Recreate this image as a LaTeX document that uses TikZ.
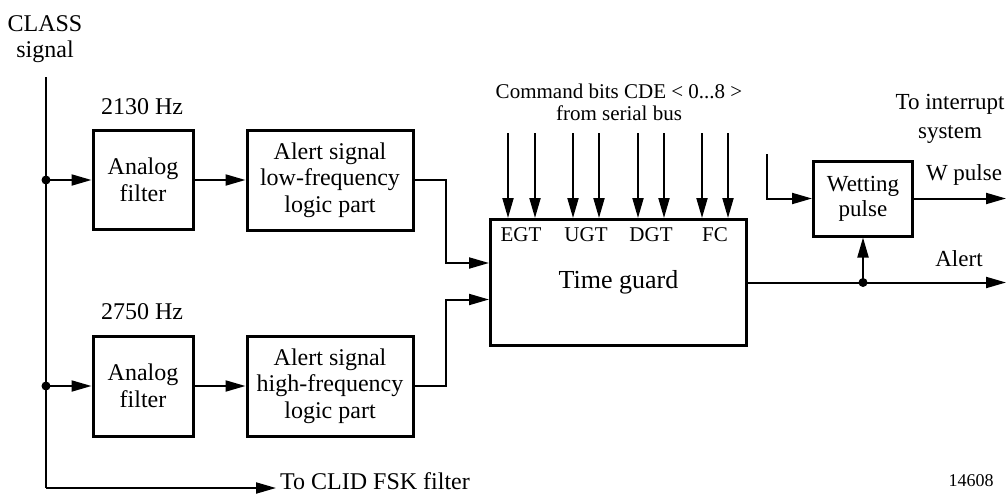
\documentclass[tikz,border=0pt]{standalone}
\usepackage{fontspec}
\setmainfont{Liberation Serif}
\usetikzlibrary{arrows.meta}

\begin{document}
\begin{tikzpicture}[x=1pt,y=-1pt,
    box/.style={draw,line width=3pt,align=center,inner sep=0pt,font=\fontsize{24}{26.5}\selectfont},
    wire/.style={line width=2pt},
    arr/.style={line width=2pt,-{Triangle[length=20pt,width=11pt]}},
    lbl/.style={font=\fontsize{24}{26}\selectfont,align=center},
    tag/.style={font=\fontsize{21}{21.5}\selectfont,align=center,inner sep=0pt},
    side/.style={font=\fontsize{23}{29}\selectfont,align=center,inner sep=0pt}]
    \useasboundingbox (0,0) rectangle (1008,495);

    % Filters and logic parts
    \node[box,minimum width=100pt,minimum height=99pt] (af1) at (143,180) {Analog\\filter};
    \node[box,minimum width=166pt,minimum height=100pt] (as1) at (330,180) {Alert signal\\low-frequency\\logic part};
    \node[box,minimum width=100pt,minimum height=100pt] (af2) at (143,386) {Analog\\filter};
    \node[box,minimum width=166pt,minimum height=100pt] (as2) at (330,386) {Alert signal\\high-frequency\\logic part};

    % Time guard and wetting pulse
    \node[box,minimum width=256pt,minimum height=126pt,font=\fontsize{26}{28}\selectfont] (tg) at (618.5,282.5) {Time guard};
    \node[box,minimum width=99pt,minimum height=75pt,font=\fontsize{23}{25}\selectfont] (wp) at (863,198.5) {Wetting\\pulse};

    % Labels
    \node[lbl,anchor=north,inner sep=0pt] (cls) at (45,15) {CLASS\\signal};
    \node[lbl] (f1) at (142,107) {2130 Hz};
    \node[lbl] (f2) at (142,312) {2750 Hz};
    \node[lbl,anchor=west,inner xsep=4pt,inner ysep=0pt] (clid) at (276,481) {To CLID FSK filter};
    \node[tag,anchor=north] (cmd) at (619,84) {Command bits CDE < 0...8 >\\from serial bus};
    \node[tag] (egt) at (521,234.5) {EGT};
    \node[tag] (ugt) at (586,234.5) {UGT};
    \node[tag] (dgt) at (651,234.5) {DGT};
    \node[tag] (fc) at (715,234.5) {FC};
    \node[side,anchor=north] (intr) at (950,94) {To interrupt\\system};
    \node[side] (wpl) at (964,175) {W pulse};
    \node[side] (alt) at (959,259) {Alert};
    \node[font=\fontsize{18}{20}\selectfont] (num) at (971,481) {14608};

    % Input trunk
    \coordinate (top) at (46,77);
    \coordinate (j1) at (46,180);
    \coordinate (j2) at (46,386);
    \coordinate (bot) at (46,488);
    \draw[wire] (top) -- (bot);
    \draw[arr] (bot) -- (bot -| clid.west);
    \fill (j1) circle (4.5pt);
    \fill (j2) circle (4.5pt);
    \draw[arr] (j1) -- (af1.west);
    \draw[arr] (j2) -- (af2.west);
    \draw[arr] (af1) -- (as1);
    \draw[arr] (af2) -- (as2);

    % Into the time guard
    \draw[arr] (as1.east) -- ++(31,0) |- ([yshift=19.5pt]tg.west);
    \draw[arr] (as2.east) -- ++(31,0) |- ([yshift=-17pt]tg.west);
    \foreach \x [count=\i] in {508,535,573,599,638,664,702,728} {
        \coordinate (cb\i) at (\x,133);
        \draw[arr] (cb\i) -- (cb\i |- tg.north);
    }

    % Outputs
    \coordinate (j3) at (wp.south |- tg.east);
    \coordinate (aout) at (1006,282.5);
    \coordinate (wpin) at (767,154);
    \coordinate (wout) at (1006,198.5);
    \draw[arr] (tg.east) -- (aout);
    \fill (j3) circle (4.5pt);
    \draw[arr] (j3) -- (wp.south);
    \draw[arr] (wpin) |- (wp.west);
    \draw[arr] (wp.east) -- (wout);
\end{tikzpicture}
\end{document}
